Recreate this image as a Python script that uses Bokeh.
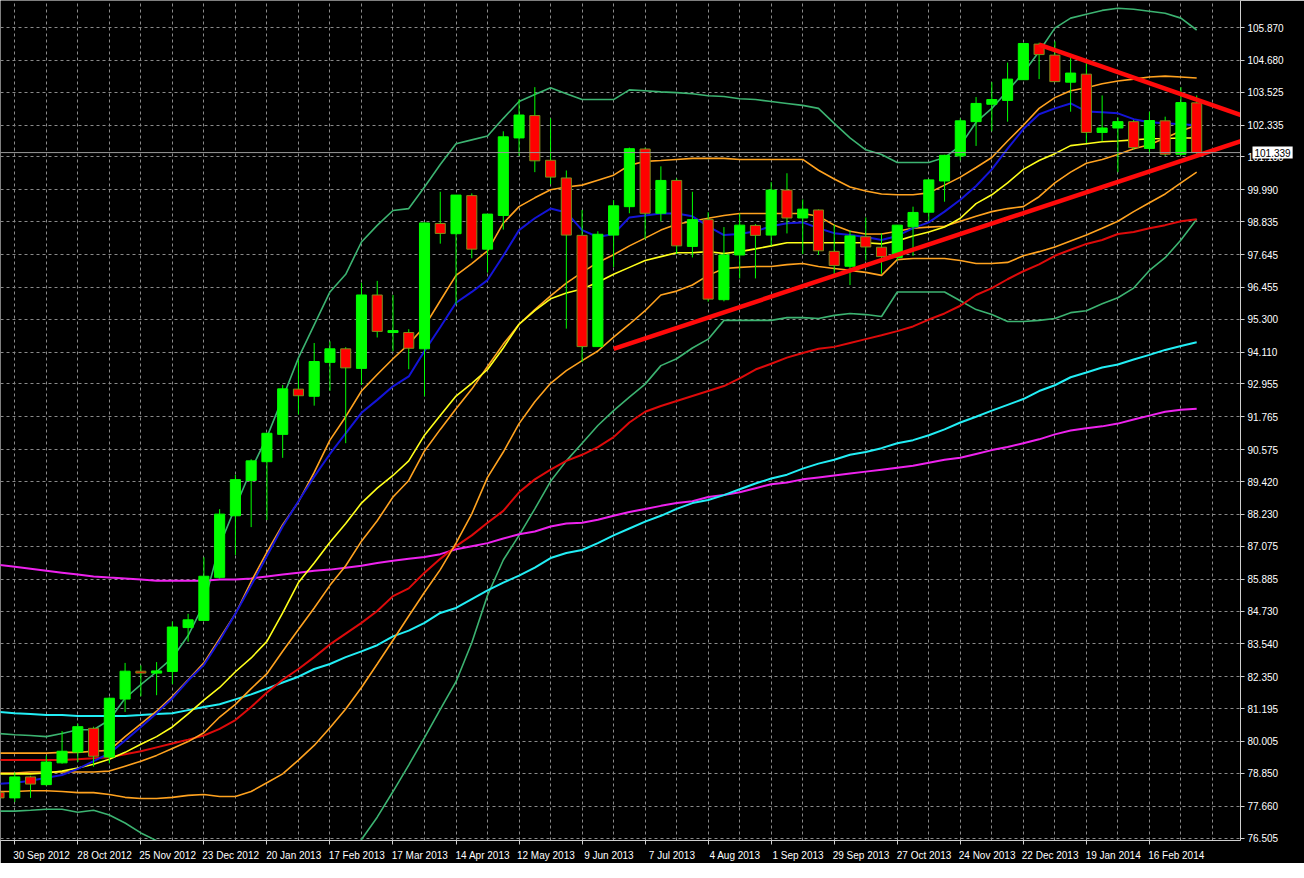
from bokeh.plotting import figure
from bokeh.models import FixedTicker, Range1d, Label, Span, PrintfTickFormatter
from bokeh.embed import file_html
from bokeh.resources import INLINE

# ---------------- data (weekly bars, index 0 = 30 Sep 2012) ----------------
bars = list(range(-1, 76))

open_ = [78.16,
         77.96, 78.72, 78.44, 79.23, 79.62, 80.48, 79.44, 81.54, 82.55, 82.48,
         82.54, 84.13, 84.39, 85.95, 88.18, 89.46, 90.14, 91.13, 92.77, 92.51,
         93.74, 94.23, 93.52, 96.18, 94.82, 94.82, 94.23, 98.77, 98.40, 99.78,
         97.84, 99.06, 101.87, 102.68, 101.06, 100.42, 98.34, 94.31, 98.35, 99.38,
         101.47, 99.14, 100.33, 97.94, 98.91, 96.01, 97.63, 98.70, 98.35, 99.98,
         98.97, 99.26, 97.76, 97.22, 98.29, 97.91, 97.54, 98.65, 99.18, 100.31,
         101.22, 102.46, 103.09, 103.23, 103.98, 105.27, 104.87, 103.89, 104.18, 102.07,
         102.23, 102.46, 101.49, 102.49, 101.28, 103.14]
high = [78.40,
        78.88, 78.76, 79.49, 80.38, 80.65, 80.54, 81.60, 82.85, 82.76, 82.88,
        84.35, 84.63, 86.68, 88.42, 89.66, 90.23, 91.17, 92.92, 93.81, 94.44,
        94.50, 94.29, 96.62, 96.69, 96.18, 94.94, 98.80, 99.92, 99.80, 99.86,
        99.11, 102.11, 103.27, 103.71, 102.58, 100.69, 99.26, 98.49, 99.62, 101.52,
        101.52, 100.84, 100.40, 99.92, 99.18, 98.64, 99.14, 98.75, 100.27, 100.59,
        99.64, 99.28, 98.73, 98.53, 98.99, 98.41, 98.71, 99.38, 100.38, 101.26,
        102.58, 103.35, 103.89, 104.60, 105.30, 105.32, 105.37, 104.83, 104.72, 103.41,
        102.61, 102.52, 102.82, 102.64, 103.71, 103.41]
low = [77.87,
       77.81, 77.96, 78.40, 79.20, 79.26, 79.09, 79.21, 81.07, 81.64, 81.68,
       82.08, 83.62, 84.37, 85.90, 86.76, 87.77, 88.03, 90.28, 91.85, 92.17,
       92.71, 90.81, 92.92, 94.64, 94.14, 93.49, 92.51, 98.04, 95.83, 97.51,
       96.99, 98.55, 101.22, 100.63, 100.19, 94.96, 93.75, 94.31, 97.19, 99.14,
       98.20, 98.85, 97.66, 97.54, 95.94, 95.95, 96.78, 96.78, 97.96, 98.41,
       97.66, 97.63, 96.89, 96.54, 97.43, 96.95, 97.43, 97.60, 98.88, 99.56,
       101.06, 101.58, 102.11, 102.46, 103.98, 104.00, 103.89, 102.82, 101.69, 101.75,
       100.63, 101.45, 101.30, 101.22, 101.24, 101.16]
close = [77.96,
         78.72, 78.46, 79.26, 79.65, 80.54, 79.47, 81.57, 82.55, 82.48, 82.56,
         84.15, 84.41, 85.99, 88.24, 89.49, 90.17, 91.17, 92.78, 92.53, 93.77,
         94.23, 93.54, 96.18, 94.86, 94.89, 94.25, 98.79, 98.41, 99.80, 97.84,
         99.11, 101.91, 102.70, 101.04, 100.45, 98.35, 94.31, 98.38, 99.41, 101.48,
         99.14, 100.33, 97.96, 98.91, 96.03, 97.63, 98.71, 98.34, 99.98, 98.97,
         99.29, 97.78, 97.25, 98.32, 97.92, 97.57, 98.71, 99.17, 100.35, 101.24,
         102.49, 103.12, 103.26, 104.00, 105.29, 104.89, 103.91, 104.22, 102.07, 102.23,
         102.46, 101.52, 102.50, 101.28, 103.15, 101.339]

ma_blue = [78.47,
           78.51, 78.58, 78.69, 78.79, 79.01, 79.29, 79.57, 80.04, 80.53, 81.03,
           81.57, 82.21, 82.78, 83.66, 84.63, 85.66, 86.72, 87.79, 88.71, 89.60,
           90.42, 91.17, 91.91, 92.38, 92.87, 93.23, 94.15, 95.01, 95.90, 96.29,
           96.72, 97.60, 98.53, 98.96, 99.31, 99.17, 98.53, 98.28, 98.39, 98.99,
           99.06, 99.13, 99.13, 99.03, 98.67, 98.35, 98.39, 98.49, 98.67, 98.78,
           98.81, 98.60, 98.42, 98.35, 98.28, 98.17, 98.32, 98.60, 98.81, 99.20,
           99.63, 100.13, 100.73, 101.48, 102.19, 102.73, 102.94, 103.12, 102.83, 102.80,
           102.76, 102.55, 102.44, 102.40, 102.37, 102.33]
band_orange_up = [79.58,
                  79.58, 79.58, 79.58, 79.61, 79.61, 79.65, 79.68, 80.18, 80.64, 81.10,
                  81.64, 82.24, 82.85, 83.74, 84.63, 85.80, 86.86, 87.86, 88.68, 89.75,
                  90.92, 91.77, 92.70, 93.30, 93.87, 94.40, 95.04, 95.97, 96.89, 97.32,
                  97.78, 98.78, 99.38, 99.70, 99.99, 100.09, 100.16, 100.34, 100.52, 100.88,
                  101.02, 101.05, 101.09, 101.13, 101.13, 101.13, 101.09, 101.09, 101.09, 101.09,
                  101.09, 100.70, 100.38, 100.09, 99.95, 99.84, 99.81, 99.81, 99.88, 100.16,
                  100.45, 100.80, 101.16, 101.76, 102.33, 102.94, 103.33, 103.58, 103.69, 103.83,
                  103.93, 104.00, 104.08, 104.11, 104.08, 104.04]
ma_yellow = [78.83,
             78.83, 78.83, 78.86, 78.93, 79.04, 79.18, 79.36, 79.61, 79.90, 80.18,
             80.53, 81.00, 81.50, 81.96, 82.53, 83.03, 83.63, 84.66, 85.76, 86.47,
             87.22, 87.90, 88.64, 89.18, 89.64, 90.17, 91.10, 91.81, 92.52, 92.98,
             93.48, 94.26, 95.12, 95.61, 96.04, 96.25, 96.40, 96.64, 96.93, 97.18,
             97.43, 97.57, 97.71, 97.71, 97.75, 97.68, 97.75, 97.85, 97.96, 98.07,
             98.07, 98.07, 98.07, 98.07, 98.07, 98.03, 98.14, 98.32, 98.46, 98.64,
             98.96, 99.49, 99.81, 100.24, 100.73, 101.05, 101.30, 101.59, 101.66, 101.73,
             101.76, 101.80, 101.84, 101.85, 101.87, 101.87]
band_orange_mid = [78.86,
                   78.86, 78.90, 78.90, 78.90, 78.90, 78.90, 78.93, 79.11, 79.29, 79.50,
                   79.75, 80.00, 80.32, 80.89, 81.35, 81.92, 82.46, 83.27, 84.06, 84.84,
                   85.66, 86.37, 87.26, 88.00, 88.86, 89.46, 90.53, 91.31, 92.06, 92.77,
                   93.59, 94.40, 95.12, 95.65, 96.15, 96.61, 97.00, 97.36, 97.64, 97.96,
                   98.24, 98.53, 98.74, 98.85, 98.96, 99.06, 99.13, 99.13, 99.13, 99.13,
                   99.13, 99.03, 98.71, 98.49, 98.39, 98.39, 98.49, 98.60, 98.64, 98.67,
                   98.85, 99.03, 99.20, 99.31, 99.38, 99.74, 100.24, 100.63, 100.95, 101.09,
                   101.27, 101.48, 101.62, 101.87, 102.12, 102.33]
band_orange_low = [78.19,
                   78.19, 78.22, 78.22, 78.19, 78.15, 78.15, 78.08, 77.98, 77.94, 77.94,
                   77.98, 78.05, 78.08, 78.01, 78.01, 78.19, 78.51, 78.83, 79.33, 79.86,
                   80.50, 81.18, 81.96, 82.81, 83.67, 84.55, 85.41, 86.23, 87.19, 88.25,
                   89.57, 90.49, 91.52, 92.31, 92.98, 93.44, 93.80, 94.15, 94.65, 95.12,
                   95.61, 96.18, 96.32, 96.54, 96.89, 97.14, 97.18, 97.21, 97.21, 97.28,
                   97.32, 97.21, 97.14, 97.07, 97.00, 96.89, 97.46, 97.50, 97.50, 97.50,
                   97.43, 97.32, 97.32, 97.36, 97.60, 97.75, 97.92, 98.14, 98.35, 98.60,
                   98.85, 99.20, 99.52, 99.84, 100.24, 100.63]
ma_red = [79.33,
          79.33, 79.33, 79.33, 79.33, 79.36, 79.40, 79.43, 79.54, 79.65, 79.79,
          79.93, 80.07, 80.22, 80.46, 80.78, 81.25, 81.78, 82.24, 82.63, 83.06,
          83.52, 83.91, 84.30, 84.73, 85.27, 85.55, 86.12, 86.62, 87.08, 87.47,
          87.93, 88.36, 89.03, 89.50, 89.85, 90.17, 90.39, 90.67, 91.03, 91.56,
          91.95, 92.16, 92.34, 92.52, 92.70, 92.88, 93.16, 93.48, 93.69, 93.91,
          94.08, 94.23, 94.30, 94.44, 94.58, 94.72, 94.87, 95.04, 95.29, 95.51,
          95.79, 96.18, 96.43, 96.75, 97.04, 97.29, 97.60, 97.82, 98.03, 98.17,
          98.39, 98.46, 98.60, 98.71, 98.85, 98.92]
ma_cyan = [81.07,
           81.03, 81.00, 80.96, 80.96, 80.93, 80.93, 80.93, 80.93, 80.96, 81.00,
           81.03, 81.14, 81.25, 81.35, 81.53, 81.71, 81.92, 82.14, 82.35, 82.63,
           82.81, 83.06, 83.27, 83.49, 83.81, 84.02, 84.30, 84.66, 84.84, 85.16,
           85.48, 85.76, 86.01, 86.30, 86.65, 86.83, 86.94, 87.19, 87.47, 87.72,
           87.97, 88.18, 88.43, 88.64, 88.75, 88.93, 89.14, 89.35, 89.53, 89.67,
           89.89, 90.07, 90.21, 90.39, 90.49, 90.63, 90.81, 90.92, 91.10, 91.31,
           91.56, 91.77, 91.99, 92.20, 92.41, 92.70, 92.91, 93.20, 93.37, 93.55,
           93.66, 93.84, 94.01, 94.19, 94.33, 94.47]
ma_magenta = [86.40,
              86.33, 86.26, 86.19, 86.12, 86.05, 85.98, 85.94, 85.91, 85.87, 85.83,
              85.83, 85.83, 85.83, 85.87, 85.87, 85.91, 85.98, 86.05, 86.12, 86.19,
              86.23, 86.30, 86.37, 86.47, 86.55, 86.62, 86.69, 86.79, 86.97, 87.08,
              87.19, 87.36, 87.51, 87.61, 87.79, 87.90, 87.93, 88.04, 88.18, 88.32,
              88.43, 88.54, 88.64, 88.71, 88.86, 88.93, 89.03, 89.18, 89.32, 89.39,
              89.50, 89.57, 89.64, 89.71, 89.78, 89.85, 89.92, 89.99, 90.10, 90.21,
              90.28, 90.42, 90.56, 90.67, 90.81, 90.95, 91.13, 91.27, 91.35, 91.42,
              91.52, 91.67, 91.81, 91.95, 92.02, 92.06]
band_green_up = [80.29,
                 80.25, 80.22, 80.18, 80.29, 80.43, 80.43, 80.78, 81.57, 82.06, 82.53,
                 83.03, 83.84, 84.98, 87.11, 88.50, 89.85, 91.03, 92.45, 93.90, 95.10,
                 96.29, 96.93, 98.10, 98.70, 99.24, 99.31, 100.09, 100.91, 101.66, 101.80,
                 101.94, 102.58, 103.19, 103.44, 103.69, 103.47, 103.26, 103.26, 103.26, 103.61,
                 103.58, 103.54, 103.51, 103.47, 103.40, 103.37, 103.29, 103.26, 103.19, 103.12,
                 103.05, 102.94, 102.40, 101.87, 101.44, 101.27, 100.98, 100.98, 100.98, 101.16,
                 101.59, 102.44, 102.94, 103.58, 104.22, 105.00, 105.85, 106.21, 106.35, 106.49,
                 106.57, 106.53, 106.46, 106.39, 106.21, 105.78]
band_green_low = [77.48,
                  77.48, 77.51, 77.55, 77.55, 77.44, 77.51, 77.34, 77.05, 76.69, 76.41,
                  76.06, 75.63, 75.10, 74.49, 73.96, 73.60, 73.42, 73.49, 73.78, 74.31,
                  74.95, 75.66, 76.45, 77.26, 78.19, 79.15, 80.14, 81.17, 82.17, 83.58,
                  85.30, 86.58, 87.47, 88.43, 89.43, 90.17, 90.81, 91.45, 91.99, 92.48,
                  92.95, 93.62, 93.87, 94.26, 94.58, 95.26, 95.26, 95.26, 95.26, 95.36,
                  95.36, 95.33, 95.44, 95.51, 95.47, 95.40, 96.29, 96.29, 96.29, 96.29,
                  95.97, 95.65, 95.47, 95.22, 95.22, 95.26, 95.33, 95.54, 95.61, 95.86,
                  96.08, 96.43, 97.07, 97.53, 98.17, 98.92]

# hand-drawn trend lines (bar index, price)
support_x = [38, 80]
support_y = [94.23, 102.17]
resist_x = [65, 80]
resist_y = [105.25, 102.26]

last_price = 101.339

y_ticks = [76.505, 77.660, 78.850, 80.005, 81.195, 82.350, 83.540, 84.730, 85.885,
           87.075, 88.230, 89.420, 90.575, 91.765, 92.955, 94.110, 95.300, 96.455,
           97.645, 98.835, 99.990, 101.180, 102.335, 103.525, 104.680, 105.870]
x_label_bars = [0, 4, 8, 12, 16, 20, 24, 28, 32, 36, 40, 44, 48, 52, 56, 60, 64, 68, 72]
x_labels = ["30 Sep 2012", "28 Oct 2012", "25 Nov 2012", "23 Dec 2012", "20 Jan 2013",
            "17 Feb 2013", "17 Mar 2013", "14 Apr 2013", "12 May 2013", "9 Jun 2013",
            "7 Jul 2013", "4 Aug 2013", "1 Sep 2013", "29 Sep 2013", "27 Oct 2013",
            "24 Nov 2013", "22 Dec 2013", "19 Jan 2014", "16 Feb 2014"]

# ---------------- figure ----------------
FONT = "Liberation Sans"
AX = "#d0d0d0"

p = figure(frame_width=1240, frame_height=840, output_backend="svg", toolbar_location=None,
           x_range=Range1d(-0.906, 77.78), y_range=Range1d(76.416, 106.849),
           y_axis_location="right", background_fill_color="black",
           border_fill_color="black", outline_line_color=None,
           min_border_left=0, min_border_top=0, min_border_right=0, min_border_bottom=0)

# y axis (right)
ya = p.yaxis[0]
ya.ticker = FixedTicker(ticks=y_ticks)
ya.formatter = PrintfTickFormatter(format="%.3f")
ya.axis_line_color = AX
ya.major_tick_line_color = AX
ya.major_tick_out = 4
ya.major_tick_in = 0
ya.minor_tick_line_color = None
ya.major_label_text_color = "white"
ya.major_label_text_font = FONT
ya.major_label_text_font_size = "10px"
ya.major_label_standoff = 3

# x axis: tick marks at bar positions (minor), labels shifted right of them (major)
label_pos = [round(b + 1.7, 2) for b in x_label_bars]
xa = p.xaxis[0]
xa.ticker = FixedTicker(ticks=label_pos, minor_ticks=x_label_bars)
xa.major_label_overrides = {pos: lab for pos, lab in zip(label_pos, x_labels)}
xa.axis_line_color = AX
xa.major_tick_line_color = None
xa.minor_tick_line_color = AX
xa.minor_tick_out = 4
xa.minor_tick_in = 0
xa.major_label_text_color = "white"
xa.major_label_text_font = FONT
xa.major_label_text_font_size = "10px"
xa.major_label_standoff = 3

# grids
p.xgrid[0].ticker = FixedTicker(ticks=list(range(0, 78, 2)))
for g in (p.xgrid[0], p.ygrid[0]):
    g.grid_line_color = "#8a8a8a"
    g.grid_line_dash = "3 3"
    g.grid_line_width = 1

# indicator lines
p.line(bars, band_green_up, color="#3CB371", line_width=1.6)
p.line(bars, band_green_low, color="#3CB371", line_width=1.6)
p.line(bars, ma_magenta, color="#EE22EE", line_width=2)
p.line(bars, ma_cyan, color="#22EEF5", line_width=2)
p.line(bars, ma_red, color="#DD0A0A", line_width=2)
p.line(bars, band_orange_low, color="#FFA21F", line_width=1.6)
p.line(bars, band_orange_mid, color="#FFA21F", line_width=1.6)
p.line(bars, ma_yellow, color="#FFFF1A", line_width=1.6)
p.line(bars, band_orange_up, color="#FFA21F", line_width=1.6)
p.line(bars, ma_blue, color="#1414D8", line_width=2)

# current price line
p.add_layout(Span(location=last_price, dimension="width", line_color="#9a9a9a", line_width=1))

# candles
up_x, up_top, up_bot, dn_x, dn_top, dn_bot = [], [], [], [], [], []
for b, o, c in zip(bars, open_, close):
    if c >= o:
        up_x.append(b); up_top.append(c); up_bot.append(o)
    else:
        dn_x.append(b); dn_top.append(o); dn_bot.append(c)

p.segment(bars, high, bars, low, color="#00FF00", line_width=1)
p.vbar(x=up_x, top=up_top, bottom=up_bot, width=0.64, fill_color="#00FF00",
       line_color="#00FF00", line_width=1)
p.vbar(x=dn_x, top=dn_top, bottom=dn_bot, width=0.64, fill_color="#FF0000",
       line_color="#7C8F1C", line_width=1)

# trend lines
p.line(support_x, support_y, color="#FF0A0A", line_width=4.5)
p.line(resist_x, resist_y, color="#FF0A0A", line_width=4.5)

# last price tag on the price axis (placed in the right side panel so it is not clipped)
p.add_layout(Label(x=77.78, y=last_price, x_offset=12, text="101.339", text_align="left",
                   text_baseline="middle", text_color="black", text_font=FONT,
                   text_font_size="10px", background_fill_color="white", padding=2),
             "right")

open("out.html", "w").write(file_html(p, INLINE))
